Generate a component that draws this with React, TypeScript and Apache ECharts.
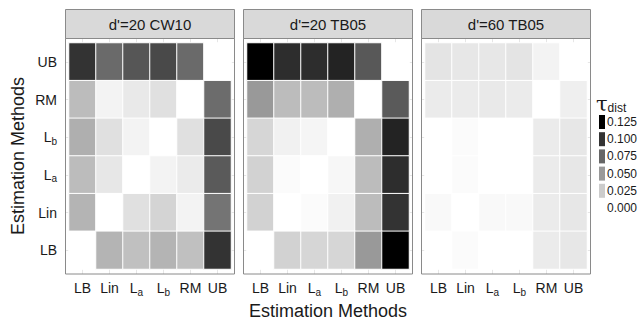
import React, { useEffect, useRef } from 'react';
import * as echarts from 'echarts';

// Categories (x left->right, y bottom->top)
const methods = ['LB', 'Lin', 'La', 'Lb', 'RM', 'UB'];
const panelTitles = ["d'=20 CW10", "d'=20 TB05", "d'=60 TB05"];

// Matrices: rows listed from top (UB) to bottom (LB); columns follow `methods`
const cw10d20 = [
  [0.100, 0.073, 0.083, 0.089, 0.073, 0.000],
  [0.033, 0.006, 0.011, 0.015, 0.000, 0.072],
  [0.039, 0.015, 0.006, 0.000, 0.015, 0.089],
  [0.033, 0.012, 0.000, 0.006, 0.010, 0.081],
  [0.037, 0.000, 0.015, 0.021, 0.006, 0.068],
  [0.000, 0.037, 0.031, 0.037, 0.031, 0.100],
];
const tb05d20 = [
  [0.128, 0.103, 0.103, 0.108, 0.082, 0.000],
  [0.050, 0.033, 0.033, 0.039, 0.000, 0.081],
  [0.020, 0.007, 0.005, 0.000, 0.039, 0.108],
  [0.022, 0.002, 0.000, 0.004, 0.033, 0.103],
  [0.022, 0.000, 0.002, 0.007, 0.033, 0.100],
  [0.000, 0.022, 0.020, 0.020, 0.050, 0.128],
];
const tb05d60 = [
  [0.013, 0.012, 0.012, 0.013, 0.006, 0.000],
  [0.010, 0.010, 0.011, 0.010, 0.000, 0.008],
  [0.000, 0.002, 0.000, 0.000, 0.010, 0.012],
  [0.000, 0.002, 0.000, 0.000, 0.010, 0.012],
  [0.003, 0.000, 0.003, 0.003, 0.010, 0.012],
  [0.000, 0.002, 0.000, 0.000, 0.010, 0.012],
];
const panelData = [cw10d20, tb05d20, tb05d60];

const legendTicks = [0.125, 0.1, 0.075, 0.05, 0.025, 0];
const colorMax = 0.125;

const FONT = "'Liberation Sans', Arial, Helvetica, sans-serif";
const TEXT = '#1a1a1a';
const BORDER = '#8a8a8a';

const panelLefts = [65.5, 243.5, 421.5];
const panelW = 169;
const stripTop = 9.5;
const stripH = 29;
const panelTop = 38.5;
const panelBottom = 274;
const gridTop = 43;
const gridH = 226;
const gridInset = 3.5;
const gridW = 162;

const gray = (v: number) => {
  const g = Math.max(0, Math.min(255, Math.round(255 * (1 - v / colorMax))));
  return `rgb(${g},${g},${g})`;
};

const labelFmt = (v: string) => {
  if (v === 'La') return '{n|L}{s|a}';
  if (v === 'Lb') return '{n|L}{s|b}';
  return `{n|${v}}`;
};
const labelRich = {
  n: { fontSize: 14, lineHeight: 18, fontFamily: FONT, color: TEXT },
  s: { fontSize: 10, lineHeight: 9, fontFamily: FONT, color: TEXT, verticalAlign: 'bottom' },
};

export default function App() {
  const ref = useRef<HTMLDivElement>(null);
  useEffect(() => {
    if (!ref.current) return;
    const chart = echarts.init(ref.current, undefined, { renderer: 'svg' });

    const grids: any[] = [];
    const xAxes: any[] = [];
    const yAxes: any[] = [];
    const series: any[] = [];
    const graphics: any[] = [];

    panelLefts.forEach((pl) => {
      grids.push({ left: pl + gridInset, top: gridTop, width: gridW, height: gridH });
    });
    // main axes
    panelLefts.forEach((pl, p) => {
      xAxes.push({
        type: 'category', gridIndex: p, data: methods, position: 'bottom',
        axisLine: { show: false }, axisTick: { show: false }, splitLine: { show: false },
        axisLabel: { interval: 0, hideOverlap: false, margin: 10, formatter: labelFmt, rich: labelRich, fontSize: 14, fontFamily: FONT, color: TEXT },
      });
      yAxes.push({
        type: 'category', gridIndex: p, data: methods, position: 'left',
        axisLine: { show: false }, axisTick: { show: false }, splitLine: { show: false },
        axisLabel: { show: p === 0, interval: 0, margin: 12, formatter: labelFmt, rich: labelRich, fontSize: 14, fontFamily: FONT, color: TEXT },
      });
    });
    // grid-line axes (faint lines at category centres, extending into padding)
    panelLefts.forEach((pl, p) => {
      xAxes.push({
        type: 'category', gridIndex: p, data: methods, position: 'top', offset: 4.5,
        axisLine: { show: false }, axisLabel: { show: false }, splitLine: { show: false },
        axisTick: { show: true, inside: true, alignWithLabel: true, interval: 0, length: panelBottom - panelTop, lineStyle: { color: '#e6e6e6', width: 1 } },
      });
      yAxes.push({
        type: 'category', gridIndex: p, data: methods, position: 'left', offset: gridInset,
        axisLine: { show: false }, axisLabel: { show: false }, splitLine: { show: false },
        axisTick: { show: true, inside: true, alignWithLabel: true, interval: 0, length: panelW, lineStyle: { color: '#e6e6e6', width: 1 } },
      });
    });

    panelData.forEach((mat, p) => {
      const data: any[] = [];
      mat.forEach((row, r) => {
        row.forEach((v, c) => {
          data.push([c, methods.length - 1 - r, v]);
        });
      });
      series.push({
        type: 'heatmap', xAxisIndex: p, yAxisIndex: p, data,
        itemStyle: { borderColor: '#ffffff', borderWidth: 1 },
        emphasis: { disabled: true },
        progressive: 0,
      });
    });

    panelLefts.forEach((pl, p) => {
      graphics.push({
        type: 'rect', z: 100,
        shape: { x: pl, y: stripTop, width: panelW, height: stripH },
        style: { fill: '#d9d9d9', stroke: BORDER, lineWidth: 1 },
      });
      graphics.push({
        type: 'text', z: 101, x: pl + panelW / 2, y: stripTop + stripH / 2 + 0.5,
        style: { text: panelTitles[p], fontSize: 15, fontFamily: FONT, fill: TEXT, align: 'center', verticalAlign: 'middle' },
      });
      graphics.push({
        type: 'rect', z: 100,
        shape: { x: pl, y: panelTop, width: panelW, height: panelBottom - panelTop },
        style: { fill: 'none', stroke: BORDER, lineWidth: 1 },
      });
    });

    // axis titles
    graphics.push({
      type: 'text', z: 101, x: 328, y: 311,
      style: { text: 'Estimation Methods', fontSize: 18, fontFamily: FONT, fill: TEXT, align: 'center', verticalAlign: 'middle' },
    });
    graphics.push({
      type: 'text', z: 101, x: 18, y: gridTop + gridH / 2, rotation: Math.PI / 2,
      style: { text: 'Estimation Methods', fontSize: 18, fontFamily: FONT, fill: TEXT, align: 'center', verticalAlign: 'middle' },
    });

    // legend
    graphics.push({
      type: 'text', z: 101, x: 596, y: 104,
      style: {
        text: '{t|τ}{s|dist}', align: 'left', verticalAlign: 'middle',
        rich: {
          t: { fontSize: 21, lineHeight: 20, fontFamily: "'DejaVu Serif', serif", fill: TEXT },
          s: { fontSize: 12, lineHeight: 10, fontFamily: FONT, fill: TEXT, verticalAlign: 'bottom' },
        },
      },
    });
    legendTicks.forEach((t, i) => {
      const cy = 122 + i * 17.2;
      graphics.push({
        type: 'rect', z: 101,
        shape: { x: 599, y: cy - 7, width: 6, height: 14 },
        style: { fill: gray(t) },
      });
      graphics.push({
        type: 'text', z: 101, x: 607, y: cy,
        style: { text: t.toFixed(3), fontSize: 12, fontFamily: FONT, fill: TEXT, align: 'left', verticalAlign: 'middle' },
      });
    });

    chart.setOption({
      animation: false,
      backgroundColor: '#ffffff',
      grid: grids,
      xAxis: xAxes,
      yAxis: yAxes,
      visualMap: {
        type: 'continuous', show: false, min: 0, max: colorMax, dimension: 2,
        seriesIndex: [0, 1, 2],
        inRange: { color: ['#ffffff', '#000000'] },
      },
      series,
      graphic: graphics,
    });
    return () => chart.dispose();
  }, []);
  return <div ref={ref} style={{ position: 'fixed', left: 0, top: 0, width: 639, height: 322 }} />;
}
